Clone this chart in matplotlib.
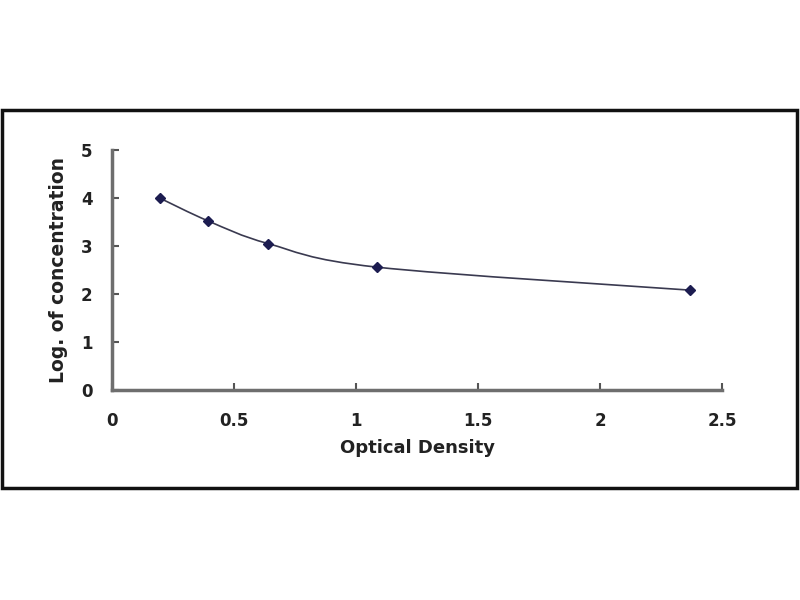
import matplotlib.pyplot as plt
from matplotlib.patches import Rectangle
from matplotlib.path import Path
from matplotlib.patches import PathPatch

optical_density = [0.195, 0.395, 0.64, 1.085, 2.37]
log_concentration = [4.0, 3.52, 3.05, 2.56, 2.08]
x_ticks = [0, 0.5, 1, 1.5, 2, 2.5]
y_ticks = [0, 1, 2, 3, 4, 5]

plt.rcParams['font.family'] = ['DejaVu Sans']
plt.rcParams['font.weight'] = 'bold'

fig = plt.figure(figsize=(8, 6), dpi=100)
ax = fig.add_axes([0.14, 0.35, 0.7625, 0.40])

# smoothed line (Bezier through the points, like a spreadsheet "smooth line")
xs, ys = optical_density, log_concentration
n = len(xs)
verts = [(xs[0], ys[0])]
codes = [Path.MOVETO]
t = 1 / 6
for i in range(n - 1):
    x0, y0 = (xs[i - 1], ys[i - 1]) if i > 0 else (xs[i], ys[i])
    x3, y3 = (xs[i + 2], ys[i + 2]) if i + 2 < n else (xs[i + 1], ys[i + 1])
    c1 = (xs[i] + (xs[i + 1] - x0) * t, ys[i] + (ys[i + 1] - y0) * t)
    c2 = (xs[i + 1] - (x3 - xs[i]) * t, ys[i + 1] - (y3 - ys[i]) * t)
    verts += [c1, c2, (xs[i + 1], ys[i + 1])]
    codes += [Path.CURVE4] * 3
ax.add_patch(PathPatch(Path(verts, codes), facecolor='none',
                       edgecolor='#3a3a50', lw=1.2))
ax.plot(xs, ys, linestyle='none', marker='D', markersize=5,
        color='#1c1c50')

ax.set_xlim(0, 2.5)
ax.set_ylim(0, 5)
ax.set_xticks(x_ticks)
ax.set_xticklabels(['0', '0.5', '1', '1.5', '2', '2.5'])
ax.set_yticks(y_ticks)
for s in ['top', 'right']:
    ax.spines[s].set_visible(False)
for s in ['left', 'bottom']:
    ax.spines[s].set_color('#6e6e6e')
    ax.spines[s].set_linewidth(2.5)
ax.tick_params(direction='in', length=5, width=1.5, color='#555555',
               labelsize=12)
ax.tick_params(axis='x', pad=16)
ax.tick_params(axis='y', pad=14)
ax.set_xlabel('Optical Density', fontsize=13, fontweight='bold',
              color='#222222', labelpad=6)
ax.set_ylabel('Log. of concentration', fontsize=13.5, fontweight='bold',
              color='#222222', labelpad=9)
for lab in ax.get_xticklabels() + ax.get_yticklabels():
    lab.set_color('#222222')

# outer frame
fig.add_artist(Rectangle((0.003, 0.187), 0.993, 0.63, transform=fig.transFigure,
                         fill=False, edgecolor='#111111', lw=2.5))

fig.savefig('out.png', dpi=100)
